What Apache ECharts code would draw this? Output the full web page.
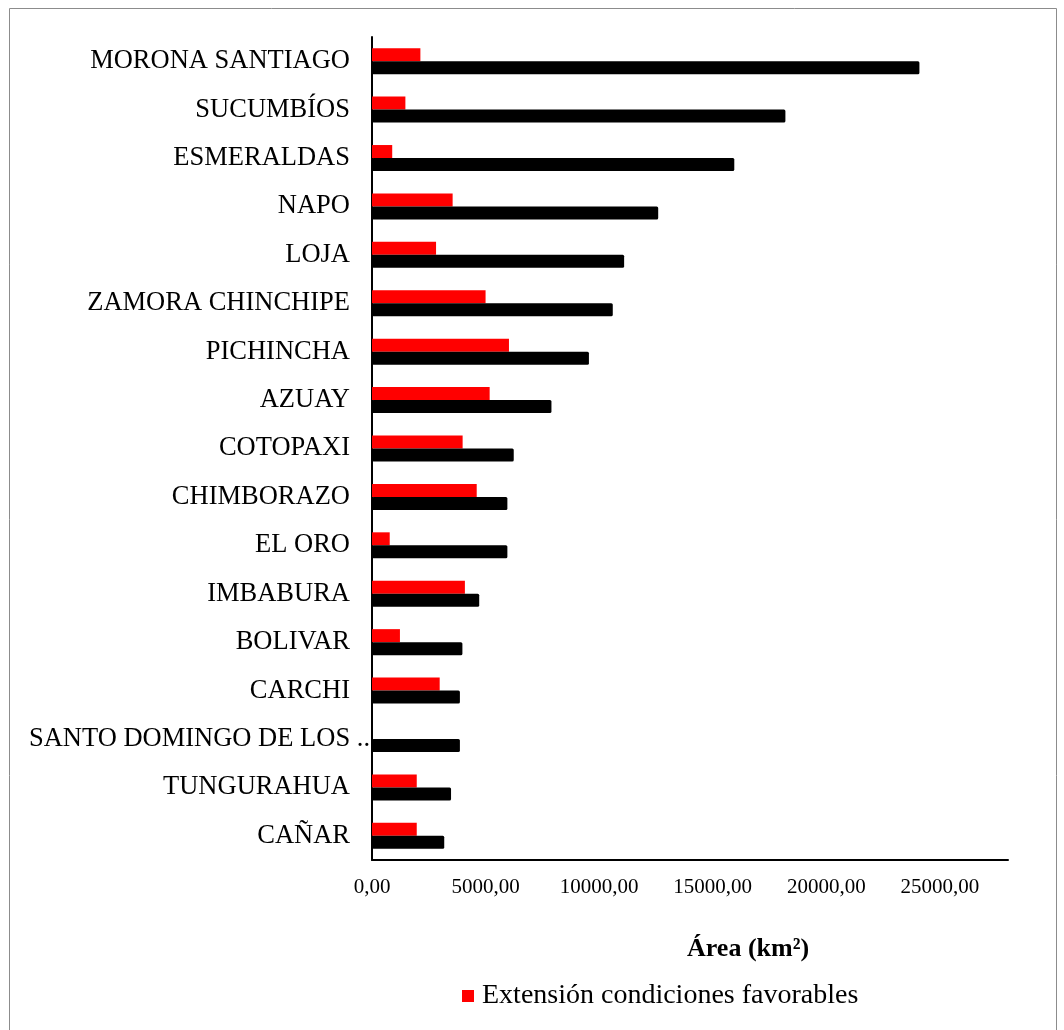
<!DOCTYPE html>
<html>
<head>
<meta charset="utf-8">
<title>Área por provincia</title>
<script src="https://cdn.jsdelivr.net/npm/echarts@6/dist/echarts.min.js"></script>
<style>
  html, body { margin: 0; padding: 0; background: #ffffff; }
  #chart { width: 1064px; height: 1030px; }
</style>
</head>
<body>
<div id="chart"></div>
<script>
// Provinces, largest total area first
const provincias = [
  'MORONA SANTIAGO', 'SUCUMBÍOS', 'ESMERALDAS', 'NAPO', 'LOJA',
  'ZAMORA CHINCHIPE', 'PICHINCHA', 'AZUAY', 'COTOPAXI', 'CHIMBORAZO',
  'EL ORO', 'IMBABURA', 'BOLIVAR', 'CARCHI',
  'SANTO DOMINGO DE LOS TSÁCHILAS', 'TUNGURAHUA', 'CAÑAR'
];

// Total provincial area (km²)
const areaTotal = [
  24100, 18200, 15950, 12600, 11100,
  10600, 9550, 7900, 6240, 5960,
  5960, 4720, 3980, 3870,
  3870, 3480, 3180
];

// Area with favourable conditions (km²)
const extensionFavorable = [
  2130, 1470, 890, 3550, 2820,
  5000, 6030, 5180, 3990, 4610,
  780, 4090, 1230, 2980,
  0, 1970, 1970
];

// Value-axis ticks
const ejeMin = 0;
const ejeMax = 28000;
const ejeIntervalo = 5000;

const FONT = "'Liberation Serif', 'Times New Roman', serif";

const chart = echarts.init(document.getElementById('chart'), null, { renderer: 'canvas' });

chart.setOption({
  backgroundColor: '#ffffff',
  animation: false,
  graphic: [{
    type: 'rect',
    shape: { x: 9.5, y: 8.5, width: 1047, height: 1040 },
    style: { fill: 'none', stroke: '#8c8c8c', lineWidth: 1 },
    silent: true
  }],
  title: {
    text: 'Área (km²)',
    left: 682,
    top: 931,
    textStyle: { fontFamily: FONT, fontSize: 26, fontWeight: 'bold', color: '#000' }
  },
  legend: {
    data: ['Extensión condiciones favorables'],
    left: 457,
    top: 977,
    icon: 'rect',
    itemWidth: 12,
    itemHeight: 12,
    itemGap: 10,
    textStyle: { fontFamily: FONT, fontSize: 28, color: '#000', padding: [0, 0, 0, 3] }
  },
  grid: { left: 372, right: 56, top: 37, bottom: 170, containLabel: false },
  xAxis: {
    type: 'value',
    min: ejeMin,
    max: ejeMax,
    interval: ejeIntervalo,
    axisLine: { show: true, lineStyle: { color: '#000', width: 2 } },
    axisTick: { show: false },
    splitLine: { show: false },
    axisLabel: {
      showMaxLabel: false,
      margin: 17,
      fontFamily: FONT,
      fontSize: 21,
      color: '#000',
      formatter: v => v.toFixed(2).replace('.', ',')
    }
  },
  yAxis: {
    type: 'category',
    inverse: true,
    data: provincias,
    axisLine: { show: true, lineStyle: { color: '#000', width: 2 } },
    axisTick: { show: false },
    axisLabel: {
      margin: 2,
      fontFamily: FONT,
      fontSize: 26.5,
      color: '#000',
      formatter: name => name.length > 24
        ? '{largo|' + name.slice(0, 20) + ' ..}'
        : '{normal|' + name + '}',
      rich: {
        normal: { fontFamily: FONT, fontSize: 26.5, color: '#000', padding: [0, 20, 0, 0] },
        largo: { fontFamily: FONT, fontSize: 26.5, color: '#000', padding: [0, 0, 0, 0] }
      }
    }
  },
  series: [
    {
      name: 'Extensión condiciones favorables',
      type: 'bar',
      data: extensionFavorable,
      barWidth: 13,
      barGap: '0%',
      itemStyle: { color: '#ff0000' }
    },
    {
      name: 'Área total',
      type: 'bar',
      data: areaTotal,
      barWidth: 13,
      barGap: '0%',
      itemStyle: { color: '#000000', borderRadius: 1.5 }
    }
  ]
});
</script>
</body>
</html>
